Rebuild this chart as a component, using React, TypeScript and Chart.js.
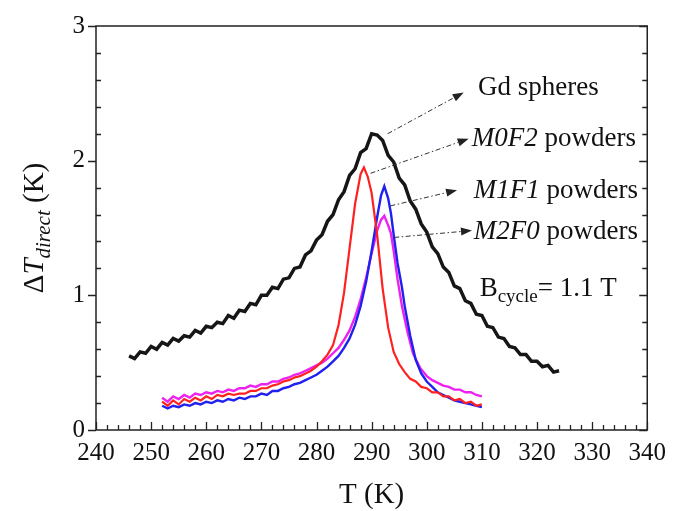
import React, { useEffect, useRef } from "react";
import { Chart, registerables } from "chart.js";

Chart.register(...registerables);

// ---------- data ----------
const gdT = [246, 247, 248, 249, 250, 251, 252, 253, 254, 255, 256, 257, 258, 259, 260, 261, 262, 263, 264, 265, 266, 267, 268, 269, 270, 271, 272, 273, 274, 275, 276, 277, 278, 279, 280, 281, 282, 283, 284, 285, 286, 287, 288, 289, 290, 291, 292, 293, 294, 295, 296, 297, 298, 299, 300, 301, 302, 303, 304, 305, 306, 307, 308, 309, 310, 311, 312, 313, 314, 315, 316, 317, 318, 319, 320, 321, 322, 323, 324];
const gdV = [0.55, 0.53, 0.58, 0.57, 0.62, 0.6, 0.65, 0.63, 0.68, 0.66, 0.7, 0.69, 0.74, 0.72, 0.77, 0.76, 0.8, 0.79, 0.85, 0.83, 0.89, 0.88, 0.94, 0.93, 1.0, 1.0, 1.06, 1.05, 1.12, 1.13, 1.2, 1.21, 1.3, 1.33, 1.41, 1.45, 1.55, 1.6, 1.71, 1.77, 1.89, 1.94, 2.06, 2.09, 2.2, 2.19, 2.15, 2.04, 1.99, 1.87, 1.82, 1.7, 1.64, 1.53, 1.47, 1.36, 1.31, 1.21, 1.17, 1.07, 1.05, 0.96, 0.94, 0.86, 0.85, 0.77, 0.76, 0.69, 0.68, 0.62, 0.61, 0.56, 0.56, 0.51, 0.51, 0.47, 0.48, 0.43, 0.44];

const m0f2T = [252, 253, 254, 255, 256, 257, 258, 259, 260, 261, 262, 263, 264, 265, 266, 267, 268, 269, 270, 271, 272, 273, 274, 275, 276, 277, 278, 279, 280, 281, 282, 283, 284, 285, 286, 287, 288, 288.6, 289.3, 290, 291, 292, 293, 294, 295, 296, 297, 298, 299, 300, 301, 302, 303, 304, 305, 306, 307, 308, 309, 310];
const m0f2V = [0.21, 0.18, 0.22, 0.19, 0.23, 0.21, 0.24, 0.22, 0.25, 0.23, 0.26, 0.25, 0.27, 0.26, 0.27, 0.27, 0.29, 0.29, 0.31, 0.31, 0.33, 0.34, 0.36, 0.37, 0.39, 0.4, 0.42, 0.44, 0.47, 0.51, 0.56, 0.63, 0.78, 1.02, 1.35, 1.68, 1.9, 1.95, 1.88, 1.76, 1.45, 1.05, 0.76, 0.58, 0.49, 0.43, 0.38, 0.36, 0.32, 0.31, 0.28, 0.28, 0.25, 0.25, 0.22, 0.23, 0.2, 0.21, 0.18, 0.19];

const m1f1T = [252, 253, 254, 255, 256, 257, 258, 259, 260, 261, 262, 263, 264, 265, 266, 267, 268, 269, 270, 271, 272, 273, 274, 275, 276, 277, 278, 279, 280, 281, 282, 283, 284, 285, 286, 287, 288, 289, 290, 291, 291.7, 292.3, 293, 293.5, 294, 294.7, 295.5, 296, 297, 298, 299, 300, 301, 302, 303, 304, 305, 306, 307, 308, 309, 310];
const m1f1V = [0.18, 0.16, 0.18, 0.17, 0.19, 0.18, 0.2, 0.19, 0.21, 0.2, 0.22, 0.21, 0.23, 0.22, 0.24, 0.23, 0.25, 0.25, 0.27, 0.26, 0.29, 0.29, 0.31, 0.32, 0.34, 0.35, 0.37, 0.39, 0.41, 0.44, 0.47, 0.51, 0.55, 0.61, 0.68, 0.78, 0.92, 1.1, 1.33, 1.58, 1.74, 1.81, 1.72, 1.61, 1.45, 1.24, 1.06, 0.92, 0.7, 0.52, 0.42, 0.36, 0.32, 0.28, 0.26, 0.24, 0.22, 0.21, 0.2, 0.19, 0.18, 0.17];

const m2f0T = [252, 253, 254, 255, 256, 257, 258, 259, 260, 261, 262, 263, 264, 265, 266, 267, 268, 269, 270, 271, 272, 273, 274, 275, 276, 277, 278, 279, 280, 281, 282, 283, 284, 285, 286, 287, 288, 289, 290, 291, 291.7, 292.3, 293, 293.5, 294, 294.7, 295.5, 296.5, 297.5, 298.8, 300, 301, 302, 303, 304, 305, 306, 307, 308, 309, 310];
const m2f0V = [0.24, 0.21, 0.25, 0.23, 0.26, 0.24, 0.27, 0.26, 0.28, 0.27, 0.29, 0.28, 0.3, 0.29, 0.31, 0.31, 0.33, 0.32, 0.34, 0.34, 0.36, 0.36, 0.38, 0.39, 0.41, 0.42, 0.44, 0.46, 0.48, 0.5, 0.53, 0.57, 0.61, 0.67, 0.74, 0.84, 0.97, 1.13, 1.31, 1.48, 1.56, 1.59, 1.52, 1.46, 1.33, 1.12, 0.92, 0.73, 0.57, 0.46, 0.4, 0.37, 0.35, 0.33, 0.32, 0.3, 0.3, 0.28, 0.28, 0.26, 0.25];

const xMin = 240;
const xMax = 340;
const xStep = 10;
const yMin = 0;
const yMax = 3;
const yStep = 1;

const seriesNames = ["Gd spheres", "M0F2 powders", "M1F1 powders", "M2F0 powders"];
const seriesColors = ["#161616", "#ff2020", "#2020f0", "#ee22ee"];
const seriesWidths = [3.5, 2.2, 2.4, 2.4];

// annotation arrows: [fromT, fromV, toT, toV]
const arrows = [
  [292.9, 2.2, 306.7, 2.507],
  [289.8, 1.906, 307.6, 2.163],
  [293.4, 1.664, 305.5, 1.781],
  [294.1, 1.43, 308.2, 1.481],
];

const SERIF = '"Liberation Serif", "Times New Roman", serif';

type Run = { text: string; font: string; dy?: number };

function runsWidth(ctx: CanvasRenderingContext2D, runs: Run[]) {
  let w = 0;
  for (const r of runs) {
    ctx.font = r.font;
    w += ctx.measureText(r.text).width;
  }
  return w;
}

function drawRuns(ctx: CanvasRenderingContext2D, runs: Run[], x: number, baseline: number) {
  let cx = x;
  for (const r of runs) {
    ctx.font = r.font;
    ctx.fillText(r.text, cx, baseline + (r.dy || 0));
    cx += ctx.measureText(r.text).width;
  }
}

const framePlugin = {
  id: "frameTicks",
  afterDatasetsDraw(chart: any) {
    const { ctx, chartArea: a, scales } = chart;
    const x = scales.x;
    const y = scales.y;
    ctx.save();
    ctx.strokeStyle = "#222";
    ctx.lineWidth = 1.5;
    ctx.strokeRect(a.left, a.top, a.right - a.left, a.bottom - a.top);
    ctx.lineWidth = 1.3;
    ctx.beginPath();
    for (let i = 0; i <= (xMax - xMin) / 2; i++) {
      const t = xMin + i * 2;
      const px = Math.round(x.getPixelForValue(t)) + 0.5;
      const major = i % 5 === 0;
      ctx.moveTo(px, a.bottom);
      ctx.lineTo(px, a.bottom - (major ? 8 : 5));
    }
    for (let i = 0; i <= (yMax - yMin) * 5; i++) {
      const v = yMin + i * 0.2;
      const py = Math.round(y.getPixelForValue(v)) + 0.5;
      const major = i % 5 === 0;
      if (major) {
        ctx.moveTo(a.left - 8, py);
        ctx.lineTo(a.left, py);
        ctx.moveTo(a.right, py);
        ctx.lineTo(a.right - 8, py);
      } else {
        ctx.moveTo(a.left, py);
        ctx.lineTo(a.left + 5, py);
        ctx.moveTo(a.right, py);
        ctx.lineTo(a.right - 5, py);
      }
    }
    ctx.stroke();
    ctx.restore();
  },
  afterDraw(chart: any) {
    const { ctx, chartArea: a, scales } = chart;
    const x = scales.x;
    const y = scales.y;
    ctx.save();
    ctx.textBaseline = "alphabetic";

    ctx.strokeStyle = "#333";
    ctx.fillStyle = "#222";
    ctx.lineWidth = 1;
    for (const [t0, v0, t1, v1] of arrows) {
      const x0 = x.getPixelForValue(t0);
      const y0 = y.getPixelForValue(v0);
      const x1 = x.getPixelForValue(t1);
      const y1 = y.getPixelForValue(v1);
      const ang = Math.atan2(y1 - y0, x1 - x0);
      const hl = 11;
      const hw = 4;
      const bx = x1 - hl * Math.cos(ang);
      const by = y1 - hl * Math.sin(ang);
      ctx.setLineDash([5, 2.5, 1.5, 2.5]);
      ctx.beginPath();
      ctx.moveTo(x0, y0);
      ctx.lineTo(bx, by);
      ctx.stroke();
      ctx.setLineDash([]);
      ctx.beginPath();
      ctx.moveTo(x1, y1);
      ctx.lineTo(bx + hw * Math.sin(ang), by - hw * Math.cos(ang));
      ctx.lineTo(bx - hw * Math.sin(ang), by + hw * Math.cos(ang));
      ctx.closePath();
      ctx.fill();
    }

    ctx.fillStyle = "#111";
    const fs = 27;
    const norm = `${fs}px ${SERIF}`;
    const ital = `italic ${fs}px ${SERIF}`;
    const labels: [Run[], number, number][] = [
      [[{ text: seriesNames[0], font: norm }], 309.3, 2.49],
      [[{ text: "M0F2", font: ital }, { text: " powders", font: norm }], 308.17, 2.107],
      [[{ text: "M1F1", font: ital }, { text: " powders", font: norm }], 308.53, 1.723],
      [[{ text: "M2F0", font: ital }, { text: " powders", font: norm }], 308.53, 1.417],
      [
        [
          { text: "B", font: norm },
          { text: "cycle", font: `19px ${SERIF}`, dy: 6 },
          { text: "= 1.1 T", font: norm },
        ],
        309.6,
        0.997,
      ],
    ];
    for (const [runs, t, v] of labels) {
      drawRuns(ctx, runs, x.getPixelForValue(t), y.getPixelForValue(v));
    }

    const xt: Run[] = [{ text: "T (K)", font: `29px ${SERIF}` }];
    const xw = runsWidth(ctx, xt);
    drawRuns(ctx, xt, (a.left + a.right) / 2 - xw / 2, 503);

    const yt: Run[] = [
      { text: "\u0394", font: `29px ${SERIF}` },
      { text: "T", font: `italic 29px ${SERIF}` },
      { text: "direct", font: `italic 21px ${SERIF}`, dy: 7 },
      { text: " (K)", font: `29px ${SERIF}` },
    ];
    const yw = runsWidth(ctx, yt);
    ctx.translate(34, 228);
    ctx.rotate(-Math.PI / 2);
    drawRuns(ctx, yt, -yw / 2, 9);
    ctx.restore();
  },
};

function pts(ts: number[], vs: number[]) {
  return ts.map((t, i) => ({ x: t, y: vs[i] }));
}

export default function App() {
  const ref = useRef<HTMLCanvasElement | null>(null);
  useEffect(() => {
    const canvas = ref.current;
    if (!canvas) return;
    const sets: [number[], number[]][] = [
      [gdT, gdV],
      [m0f2T, m0f2V],
      [m1f1T, m1f1V],
      [m2f0T, m2f0V],
    ];
    const datasets = sets.map(([ts, vs], i) => ({
      label: seriesNames[i],
      data: pts(ts, vs),
      borderColor: seriesColors[i],
      backgroundColor: seriesColors[i],
      borderWidth: seriesWidths[i],
      pointRadius: 0,
      tension: 0,
      fill: false,
    }));
    const chart = new Chart(canvas, {
      type: "line",
      data: { datasets },
      options: {
        animation: false,
        responsive: false,
        devicePixelRatio: 1,
        layout: { padding: { left: 0, right: 22, top: 21, bottom: 0 } },
        plugins: { legend: { display: false }, tooltip: { enabled: false } },
        scales: {
          x: {
            type: "linear",
            min: xMin,
            max: xMax,
            grid: { display: false, drawTicks: false },
            border: { display: false },
            ticks: {
              stepSize: xStep,
              padding: 8,
              color: "#111",
              maxRotation: 0,
              autoSkip: false,
              font: { family: SERIF, size: 25 },
            },
            afterFit: (s: any) => {
              s.height = 81;
            },
          },
          y: {
            type: "linear",
            min: yMin,
            max: yMax,
            grid: { display: false, drawTicks: false },
            border: { display: false },
            ticks: {
              stepSize: yStep,
              padding: 11,
              color: "#111",
              font: { family: SERIF, size: 25 },
            },
            afterFit: (s: any) => {
              s.width = 96;
            },
          },
        },
      },
      plugins: [framePlugin],
    } as any);
    return () => chart.destroy();
  }, []);
  return (
    <div style={{ position: "fixed", left: 0, top: 0, width: 674, height: 511, background: "#fff" }}>
      <canvas ref={ref} width={674} height={511} style={{ width: 674, height: 511, display: "block" }} />
    </div>
  );
}
